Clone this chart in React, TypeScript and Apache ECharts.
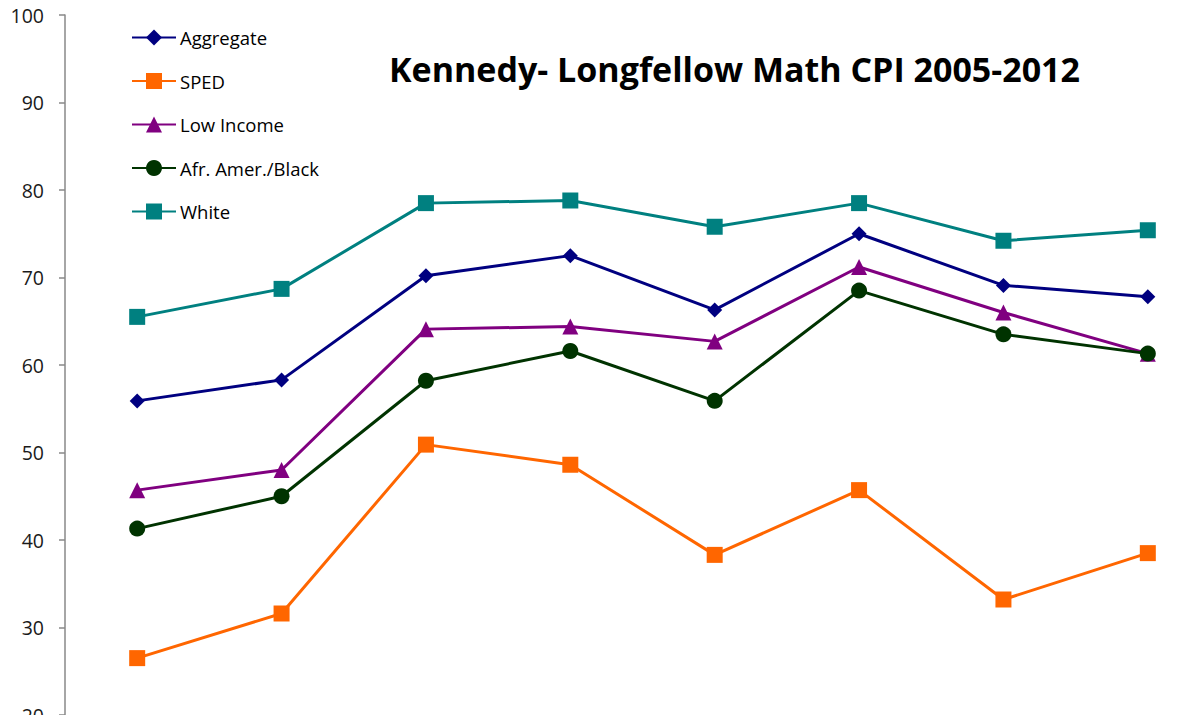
import React, { useEffect, useRef } from "react";
import * as echarts from "echarts";

const years = ["2005", "2006", "2007", "2008", "2009", "2010", "2011", "2012"];
const aggregate = [55.9, 58.3, 70.2, 72.5, 66.3, 75.0, 69.1, 67.8];
const sped = [26.5, 31.6, 50.9, 48.6, 38.3, 45.7, 33.2, 38.5];
const lowIncome = [45.7, 48.0, 64.1, 64.4, 62.7, 71.2, 66.0, 61.3];
const black = [41.3, 45.0, 58.2, 61.6, 55.9, 68.5, 63.5, 61.3];
const white = [65.5, 68.7, 78.5, 78.8, 75.8, 78.5, 74.2, 75.4];
const yTicks = { min: 20, max: 100, interval: 10 };

const seriesDefs = [
  { name: "Aggregate", data: aggregate, color: "#000080", symbol: "diamond", size: 15 },
  { name: "SPED", data: sped, color: "#FF6600", symbol: "rect", size: 16 },
  { name: "Low Income", data: lowIncome, color: "#800080", symbol: "triangle", size: 16 },
  { name: "Afr. Amer./Black", data: black, color: "#003300", symbol: "circle", size: 16 },
  { name: "White", data: white, color: "#008080", symbol: "rect", size: 16 },
];

export default function App() {
  const ref = useRef<HTMLDivElement>(null);
  useEffect(() => {
    if (!ref.current) return;
    const chart = echarts.init(ref.current, undefined, { renderer: "svg" });
    chart.setOption({
      animation: false,
      backgroundColor: "#ffffff",
      title: {
        text: "Kennedy- Longfellow Math CPI 2005-2012",
        left: 384,
        top: 47,
        textStyle: {
          fontFamily: "Open Sans",
          fontWeight: "bold",
          fontSize: 34,
          color: "#000000",
        },
      },
      legend: {
        orient: "vertical",
        left: 131,
        top: 28,
        padding: 0,
        itemWidth: 44,
        itemHeight: 20,
        itemGap: 24.5,
        textStyle: { fontFamily: "Open Sans", fontSize: 18.5, color: "#000000", padding: [0, 0, 0, -1] },
        data: seriesDefs.map((s) => s.name),
      },
      grid: { left: 65, top: 15, right: -19, bottom: 0, containLabel: false, outerBoundsMode: "none" },
      xAxis: {
        type: "category",
        data: years,
        boundaryGap: true,
        axisLine: { show: false },
        axisTick: { show: false },
        axisLabel: { show: false },
      },
      yAxis: {
        type: "value",
        min: yTicks.min,
        max: yTicks.max,
        interval: yTicks.interval,
        axisLine: { show: true, lineStyle: { color: "#888888", width: 1.5 } },
        axisTick: { show: true, length: 6, lineStyle: { color: "#888888", width: 1.5 } },
        splitLine: { show: false },
        axisLabel: {
          margin: 21,
          fontFamily: "Open Sans",
          fontSize: 19.5,
          color: "#1a1a1a",
        },
      },
      series: seriesDefs.map((s) => ({
        name: s.name,
        type: "line",
        data: s.data,
        symbol: s.symbol,
        symbolSize: s.size,
        showAllSymbol: true,
        lineStyle: { color: s.color, width: 3 },
        itemStyle: { color: s.color, borderWidth: 0 },
      })),
    });
    return () => chart.dispose();
  }, []);
  return (
    <div
      ref={ref}
      style={{ position: "fixed", left: 0, top: 0, width: 1201, height: 715 }}
    />
  );
}
